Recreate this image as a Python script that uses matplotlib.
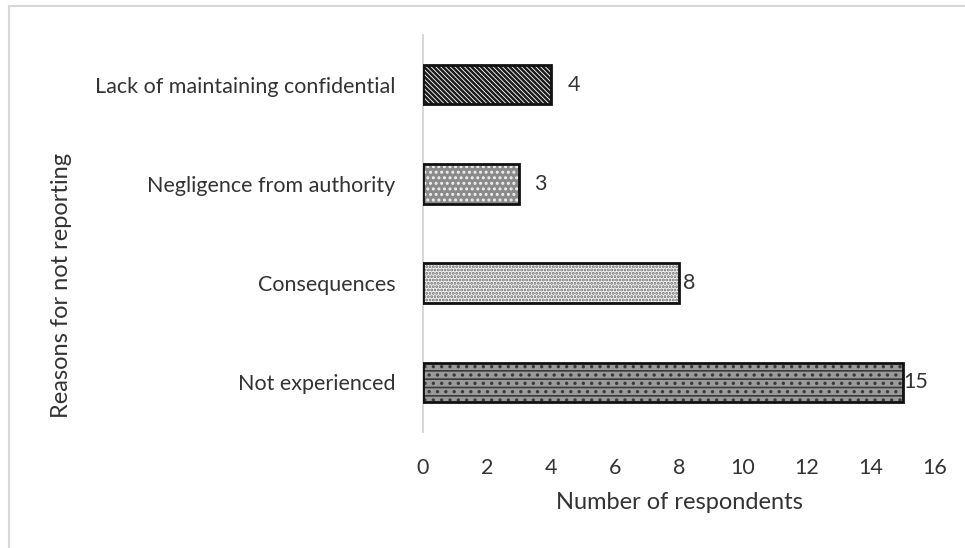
import matplotlib
matplotlib.use("Agg")
import matplotlib.pyplot as plt
from matplotlib.lines import Line2D

reasons = ["Not experienced", "Consequences", "Negligence from authority",
           "Lack of maintaining confidential"]
respondents = [15, 8, 3, 4]
x_ticks = [0, 2, 4, 6, 8, 10, 12, 14, 16]

# fill styles, bottom to top
face_colors = ["#9a9a9a", "#f4f4f4", "#8a8a8a", "#ffffff"]
hatch_colors = ["#3a3a3a", "#6a6a6a", "#f0f0f0", "#1a1a1a"]
hatches = ["--..", ".....", "...", "\\" * 7]
hatch_widths = [1.2, 1.4, 1.4, 1.8]
label_offsets = [0, 3, 11, 12]

plt.rcParams["font.family"] = ["Lato", "DejaVu Sans"]

fig = plt.figure(figsize=(9.65, 5.48), dpi=100)
ax = fig.add_axes([0.4383, 0.2117, 0.5307, 0.7245])

pos = list(range(len(reasons)))
for i in pos:
    with plt.rc_context({"hatch.linewidth": hatch_widths[i]}):
        ax.barh(i, respondents[i], height=0.4, color=face_colors[i],
                hatch=hatches[i], edgecolor=hatch_colors[i], linewidth=0, zorder=2)
    ax.barh(i, respondents[i], height=0.4, fill=False,
            edgecolor="#111111", linewidth=2, zorder=3)
    ax.annotate(str(respondents[i]), (respondents[i], i),
                xytext=(label_offsets[i], 0), textcoords="offset points",
                ha="left", va="center", fontsize=15.5, color="#333333")

ax.set_xlim(0, 16)
ax.set_ylim(-0.5, 3.5)
ax.set_xticks(x_ticks)
ax.set_yticks(pos)
ax.set_yticklabels(reasons)
ax.tick_params(axis="both", length=0, labelsize=15.5, labelcolor="#333333")
ax.tick_params(axis="y", pad=20)
ax.tick_params(axis="x", pad=19)

for side in ["top", "right", "bottom"]:
    ax.spines[side].set_visible(False)
ax.spines["left"].set_color("#d0d0d0")
ax.spines["left"].set_linewidth(1.2)

ax.set_xlabel("Number of respondents", fontsize=17, color="#333333", labelpad=10)
fig.text(0.064, 0.48, "Reasons for not reporting", rotation=90, fontsize=17,
         color="#333333", ha="center", va="center")

# light frame at left and top
fig.add_artist(Line2D([0.0095, 0.0095], [0, 0.989], color="#d8d8d8", lw=1.5))
fig.add_artist(Line2D([0.0095, 1], [0.989, 0.989], color="#d8d8d8", lw=1.5))

fig.savefig("out.png", dpi=100)
